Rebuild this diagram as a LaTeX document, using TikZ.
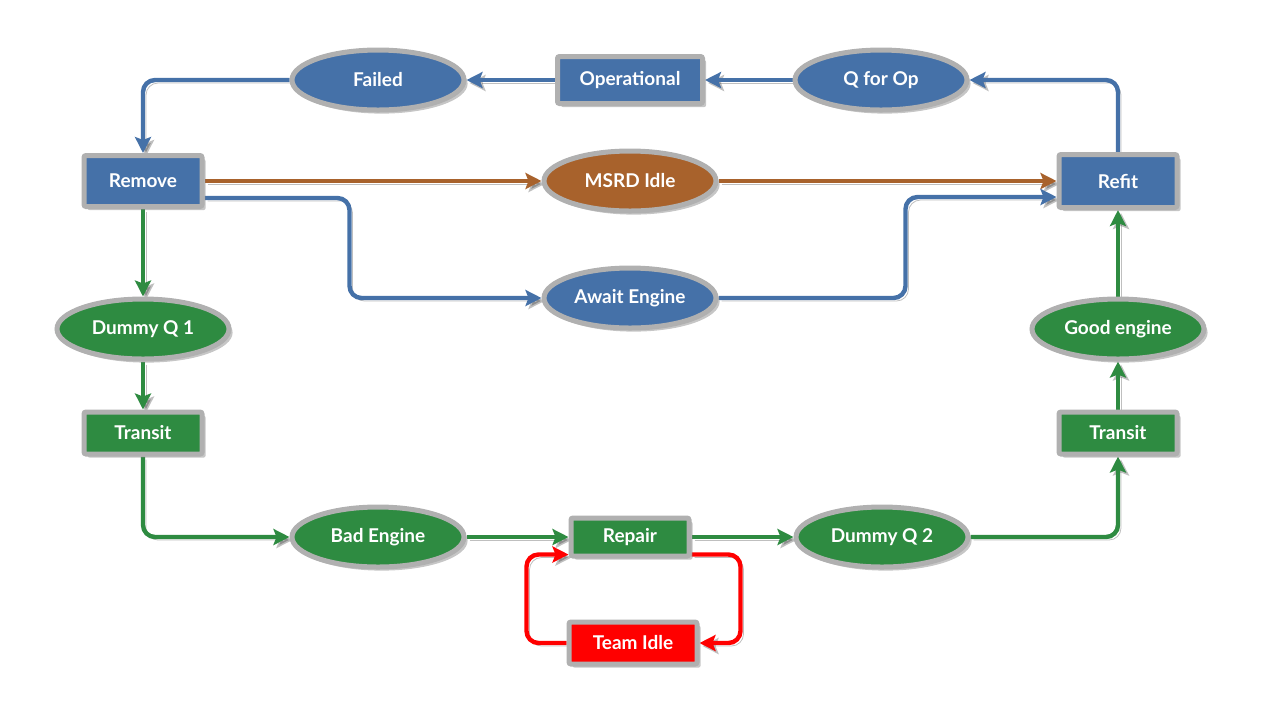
\documentclass[tikz,border=0pt]{standalone}
\usepackage{fontspec}
\setmainfont{Lato}
\usepackage{xcolor}
\usetikzlibrary{calc,shapes.geometric,shadows,arrows.meta,backgrounds}
\definecolor{bluec}{HTML}{4571A8}
\definecolor{greenc}{HTML}{2E8B41}
\definecolor{brownc}{HTML}{A8622C}
\definecolor{redc}{HTML}{FF0000}
\definecolor{rimc}{HTML}{B0B0B0}
\tikzstyle{statebase} = [
    draw=rimc,
    line width=2.5pt,
    text=white,
    font=\bfseries\fontsize{9.5}{11}\selectfont,
    drop shadow={shadow xshift=1.8pt, shadow yshift=-1.8pt, opacity=0.45}
    ]
\tikzstyle{mybox} = [
    statebase,
    rectangle,
    rounded corners=1pt,
    minimum width=59pt,
    minimum height=21pt
    ]
\tikzstyle{myellipse} = [
    statebase,
    ellipse,
    inner sep=0pt,
    minimum width=86pt,
    minimum height=30pt
    ]
\tikzstyle{link} = [
    line width=2.2pt,
    rounded corners=6pt,
    -{Stealth[length=8pt,width=8pt,inset=1.5pt]},
    preaction={draw=black, opacity=0.25,
        transform canvas={shift={(1.5pt,-1.5pt)}}}
    ]

\begin{document}
\begin{tikzpicture}[x=0.5pt,y=-0.5pt]
\useasboundingbox (0,0) rectangle (1280,720);

% top row
\node[myellipse, fill=bluec] (failed) at (378,80) {Failed};
\node[mybox, fill=bluec, minimum width=72.5pt, minimum height=23.5pt] (operational) at (630,80) {Operational};
\node[myellipse, fill=bluec] (qforop) at (881,80) {Q for Op};

% middle
\node[mybox, fill=bluec, minimum height=25.5pt] (remove) at (143,181) {Remove};
\node[myellipse, fill=brownc] (msrd) at (630,181) {MSRD Idle};
\node[mybox, fill=bluec, minimum height=26.5pt] (refit) at (1118,181) {Refit};
\node[myellipse, fill=bluec] (await) at (630,298) {Await Engine};

% sides
\node[myellipse, fill=greenc] (dummyone) at (143,329) {Dummy Q 1};
\node[myellipse, fill=greenc] (good) at (1118,329) {Good engine};
\node[mybox, fill=greenc] (transitl) at (143,433) {Transit};
\node[mybox, fill=greenc] (transitr) at (1118,433) {Transit};

% bottom row
\node[myellipse, fill=greenc] (bad) at (378,537) {Bad Engine};
\node[mybox, fill=greenc, minimum height=19pt] (repair) at (630,537) {Repair};
\node[myellipse, fill=greenc] (dummytwo) at (882,537) {Dummy Q 2};
\node[mybox, fill=redc, minimum width=64pt] (teamidle) at (633,643) {Team Idle};

\begin{pgfonlayer}{background}
\draw[link, bluec] (qforop) -- (operational);
\draw[link, bluec] (operational) -- (failed);
\draw[link, bluec] (failed) -| (remove);
\draw[link, bluec] (refit) |- (qforop);
\draw[link, brownc] (remove) -- (msrd);
\draw[link, brownc] (msrd) -- (refit);
\draw[link, bluec] ([yshift=-8.5pt]remove.east) -- ++(145,0) |- (await);
\draw[link, bluec] (await.east) -- ++(187,0) |- ([yshift=-8pt]refit.west);

\draw[link, greenc] (remove) -- (dummyone);
\draw[link, greenc] (dummyone) -- (transitl);
\draw[link, greenc] (transitl) |- (bad);
\draw[link, greenc] (bad) -- (repair);
\draw[link, greenc] (repair) -- (dummytwo);
\draw[link, greenc] (dummytwo) -| (transitr);
\draw[link, greenc] (transitr) -- (good);
\draw[link, greenc] (good) -- (refit);

\draw[link, redc] ([yshift=2pt]repair.south east) -- ++(49,0) |- (teamidle);
\draw[link, redc] (teamidle.west) -- ++(-40,0) |- ([yshift=2pt]repair.south west);
\end{pgfonlayer}
\end{tikzpicture}
\end{document}
